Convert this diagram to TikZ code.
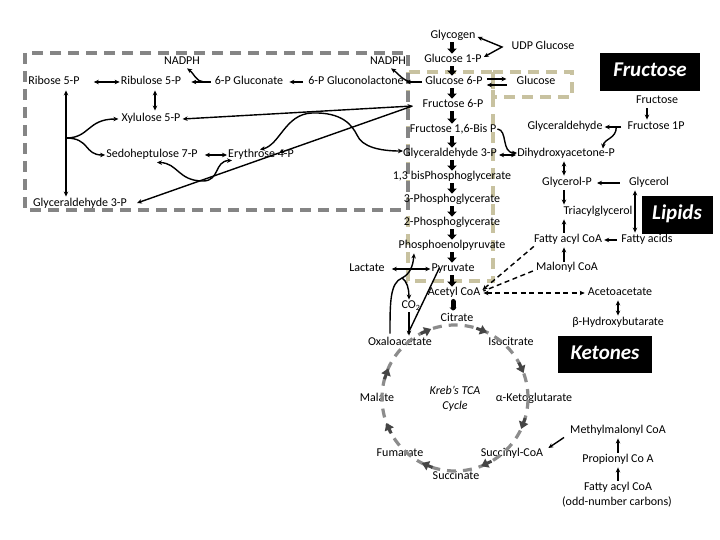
\documentclass[tikz,border=0pt]{standalone}
\usepackage{fontspec}
\setmainfont{Carlito}
\usetikzlibrary{arrows.meta,calc}
\definecolor{boxgray}{HTML}{858585}
\definecolor{beige}{HTML}{C8C2A0}
\definecolor{tcagray}{HTML}{8C8C8C}
\definecolor{tcadark}{HTML}{454545}
\begin{document}
\begin{tikzpicture}[x=1pt,y=-1pt,
  lbl/.style={inner sep=1pt, font=\fontsize{12}{14}\selectfont, text height=8pt, text depth=2.5pt},
  every node/.style={lbl},
  ln/.style={line width=1.4pt},
  toarr/.style={ln, -{Stealth[length=5pt,width=4.5pt]}},
  biarr/.style={ln, {Stealth[length=5pt,width=4.5pt]}-{Stealth[length=5pt,width=4.5pt]}},
  dsh/.style={dash pattern=on 5pt off 3.5pt},
  blk/.style={line width=4pt, -{Triangle[length=5pt,width=9.5pt]}},
  pill/.style={line width=5pt, line cap=round, -{Triangle[length=3pt,width=7pt]}},
  dbox/.style={line width=3.2pt, dash pattern=on 11pt off 7pt},
  blackbox/.style={fill=black, text=white, font=\fontsize{21}{24}\selectfont\bfseries\itshape, text height=14pt, text depth=4pt, inner sep=0pt},
  kreb/.style={font=\fontsize{12}{14}\selectfont\itshape}
]
\useasboundingbox (0,0) rectangle (720,540);
\fill[white] (0,0) rectangle (720,540);

% dashed boxes
\draw[dbox, beige] (408,72) rectangle (493,281);
\draw[dbox, beige] (493,72) rectangle (572,97);
\draw[dbox, boxgray] (25,53) rectangle (408,210);

% black title boxes
\node[blackbox, minimum width=100pt, minimum height=38pt] (fbox) at (650,72) {Fructose};
\node[blackbox, minimum width=71pt, minimum height=38pt] (lbox) at (677,215) {Lipids};
\node[blackbox, minimum width=94pt, minimum height=37pt] (kbox) at (605,354) {Ketones};

% labels
\node (glycogen) at (453,36) {Glycogen};
\node (udp) at (543,47) {UDP Glucose};
\node (g1p) at (453,60) {Glucose 1-P};
\node (nadphR) at (388,62) {NADPH};
\node (nadphL) at (182,62) {NADPH};
\node (r5p) at (54,82) {Ribose 5-P};
\node (ru5p) at (151,82) {Ribulose 5-P};
\node (pglu) at (249,82) {6-P Gluconate};
\node (plac) at (356,82) {6-P Gluconolactone};
\node (g6p) at (454,82) {Glucose 6-P};
\node (glc) at (536,82) {Glucose};
\node (fru) at (657,101) {Fructose};
\node (f6p) at (453,105) {Fructose 6-P};
\node (x5p) at (151,119) {Xylulose 5-P};
\node (gald) at (565,127) {Glyceraldehyde};
\node (f1p) at (656,127) {Fructose 1P};
\node (fbp) at (453,130) {Fructose 1,6-Bis P};
\node (s7p) at (152,155) {Sedoheptulose 7-P};
\node (e4p) at (261,155) {Erythrose 4-P};
\node (g3p) at (450,154) {Glyceraldehyde 3-P};
\node (dhap) at (566,154) {Dihydroxyacetone-P};
\node (bpg) at (452,177) {1,3 bisPhosphoglycerate};
\node (glp) at (567,183) {Glycerol-P};
\node (glyc) at (649,183) {Glycerol};
\node (g3pL) at (80,204) {Glyceraldehyde 3-P};
\node (pg3) at (452,200) {3-Phosphoglycerate};
\node (tag) at (598,212) {Triacylglycerol};
\node (pg2) at (452,223) {2-Phosphoglycerate};
\node (faco) at (568,240) {Fatty acyl CoA};
\node (fa) at (647,240) {Fatty acids};
\node (pep) at (452,246) {Phosphoenolpyruvate};
\node (lac) at (367,269) {Lactate};
\node (pyr) at (453,269) {Pyruvate};
\node (mal) at (567,268) {Malonyl CoA};
\node (acoa) at (454,293) {Acetyl CoA};
\node (aca) at (620,293) {Acetoacetate};
\node (co2) at (411,306) {CO\textsubscript{2}};
\node (cit) at (457,319) {Citrate};
\node (bhb) at (618,323) {β-Hydroxybutarate};
\node (oaa) at (400,343) {Oxaloacetate};
\node (iso) at (511,343) {Isocitrate};
\node (malate) at (377,399) {Malate};
\node[kreb] (kreb1) at (455,392) {Kreb’s TCA};
\node[kreb] (kreb2) at (455,407) {Cycle};
\node (akg) at (534,399) {α-Ketoglutarate};
\node (mmc) at (618,431) {Methylmalonyl CoA};
\node (fum) at (400,454) {Fumarate};
\node (sca) at (512,454) {Succinyl-CoA};
\node (prop) at (618,460) {Propionyl Co A};
\node (succ) at (456,477) {Succinate};
\node (faco2) at (618,488) {Fatty acyl CoA};
\node (odd) at (617,503) {(odd-number carbons)};

% block arrows of glycolysis
\coordinate (colx) at (452,0);
\foreach \a/\b in {glycogen/g1p, g1p/g6p, g6p/f6p, f6p/fbp, fbp/g3p, g3p/bpg, bpg/pg3, pg3/pg2, pg2/pep, pep/pyr, pyr/acoa}
  \draw[blk] (colx |- \a.south) -- (colx |- \b.north);
\draw[pill] ($(acoa.south)+(-1,2)$) -- ($(acoa.south |- cit.north)+(-1,-2)$);

% glycogen / UDP glucose
\coordinate (udpv) at (502,47);
\draw[biarr] ($(glycogen.east)+(1,1)$) -- (udpv) -- ($(g1p.east)+(1,-3)$);

% G6P <-> glucose
\draw[toarr] ($(g6p.east)+(3,-3)$) -- ($(glc.west)+(-9,-3)$);
\draw[toarr] ($(glc.west)+(-9,3)$) -- ($(g6p.east)+(3,3)$);

% pentose phosphate, oxidative
\draw[toarr] ($(g6p.west)+(-2,0)$) -- ($(plac.east)+(1,0)$);
\draw[toarr] ($(g6p.west)+(-12,0)$) .. controls +(-8,0) and +(6,4) .. ($(nadphR.south)+(3,0)$);
\draw[toarr] ($(plac.west)+(-4,0)$) -- ($(pglu.east)+(5,0)$);
\draw[toarr] ($(pglu.west)+(-3,0)$) -- ($(ru5p.east)+(9,0)$);
\draw[toarr] ($(pglu.west)+(-10,0)$) .. controls +(-7,0) and +(6,4) .. ($(nadphL.south)+(5,0)$);
\draw[biarr] ($(r5p.east)+(13,0)$) -- (ru5p.west);
\draw[biarr] ($(ru5p.south)+(4,2)$) -- ($(x5p.north)+(4,-2)$);

% non-oxidative branch
\coordinate (rb) at (66,138);
\draw[biarr] ($(r5p.south -| rb)+(0,2)$) -- ($(g3pL.north -| rb)+(0,-1)$);
\draw[toarr] (rb) .. controls (90,138) and (87,119) .. ($(x5p.west)+(-2,0)$);
\draw[toarr] (rb) .. controls (90,138) and (84,155) .. (s7p.west);
\draw[biarr] ($(s7p.east)+(6,0)$) -- (e4p.west);

\coordinate (f6pin) at ($(f6p.west)+(-9,1)$);
\coordinate (g3pLend) at ($(g3pL.east)+(9,-1)$);
\coordinate (e4pt) at ($(f6pin)!0.483!(g3pLend)$);
\draw[biarr] ($(x5p.east)+(1,0)$) -- (f6pin);
\draw[toarr] (f6pin) -- (e4pt);
\draw[toarr] (e4pt) -- (g3pLend);
\draw[biarr] ($(e4p.north)+(-1,1)$) .. controls (280,145) and (285,114) .. (312,113)
   .. controls (342,112) and (352,125) .. (357,135)
   .. controls (362,147) and (380,151) .. ($(g3p.west)+(1,-3)$);
\draw[biarr] ($(s7p.south)+(5,1)$) .. controls (178,163) and (178,181) .. (203,181)
   .. controls (220,181) and (214,161) .. ($(e4p.south west)+(5,-1)$);

% glycolysis side links
\draw[toarr] ($(fbp.east)+(0,-1)$) .. controls (508,130) and (501,153) .. ($(dhap.west)+(1,-1)$);
\draw[biarr] ($(g3p.east)+(1,1)$) -- ($(dhap.west)+(0,1)$);

% fructose
\draw[toarr] ($(fru.south)+(-10,1)$) -- ($(fru.south |- f1p.north)+(-10,-1)$);
\draw[toarr] ($(f1p.west)+(-5,0)$) -- ($(gald.east)+(1,0)$);
\draw[toarr] ($(f1p.west)+(-10,0)$) .. controls +(0,12) and +(1,-10) .. ($(dhap.north east)+(-13,1)$);

% lipids
\draw[biarr] ($(dhap.south)+(-2,1)$) -- ($(dhap.south |- glp.north)+(-2,-1)$);
\draw[toarr] ($(glyc.west)+(-8,0)$) -- ($(glp.east)+(4,0)$);
\draw[toarr] ($(glp.south)+(-3,1)$) -- ($(glp.south |- tag.north)+(-3,-1)$);
\draw[biarr] ($(glyc.south)+(-14,1)$) -- ($(glyc.south |- fa.north)+(-14,-1)$);
\draw[toarr] ($(faco.north)+(-4,-1)$) -- ($(faco.north |- tag.south)+(-4,1)$);
\draw[toarr] ($(fa.west)+(-3,0)$) -- ($(faco.east)+(1,0)$);
\draw[toarr] ($(mal.north)+(-3,0)$) -- ($(mal.north |- faco.south)+(-3,1)$);
\draw[toarr, dsh] ($(faco.south west)+(1,0)$) -- ($(acoa.east)+(1,-3)$);
\draw[ln, dsh] ($(mal.west)+(-2,3)$) -- ($(acoa.east)+(2,-2)$);

% ketones
\draw[biarr, dsh] ($(acoa.east)+(2,0)$) -- ($(aca.west)+(-2,0)$);
\draw[biarr] ($(aca.south)+(-2,1)$) -- ($(aca.south |- bhb.north)+(-2,-1)$);

% pyruvate region
\draw[biarr] ($(lac.east)+(6,0)$) -- (pyr.west);
\draw[ln] ($(pyr.west)+(9,-1)$) -- ($(oaa.north)+(8,-3)$);
\coordinate (junc) at (402,278);
\draw[toarr] ($(oaa.north)+(-10,-3)$) .. controls (390,302) and (390,283) .. (junc)
   .. controls (410,274) and (413,266) .. ($(pep.south -| oaa.north)+(14,1)$);
\draw[toarr] (junc) .. controls (407,281) and (409,289) .. ($(co2.north)+(-2,0)$);
\draw[toarr] ($(co2.south)+(-2,0)$) -- ($(co2.south |- oaa.north)+(-2,-1)$);

% TCA cycle
\coordinate (tca) at (455,398);
\draw[tcagray, line width=3.2pt, dash pattern=on 9pt off 7pt] (tca) circle[radius=73pt];
\foreach \t in {112,67,23,-22,-66,-114,-157,159}
  \draw[tcadark, line width=3pt, -{Triangle[length=7pt,width=9.5pt]}]
     ($(tca)+({0-(\t)-6}:73)$) -- ($(tca)+({0-(\t)+3}:73)$);

% odd-chain fatty acids
\draw[toarr] ($(mmc.south west)+(-5,0)$) -- ($(sca.east)+(4,-6)$);
\draw[toarr] ($(prop.north)+(0,-1)$) -- ($(prop.north |- mmc.south)+(0,1)$);
\draw[toarr] ($(faco2.north)+(0,-1)$) -- ($(faco2.north |- prop.south)+(0,1)$);
\end{tikzpicture}
\end{document}
